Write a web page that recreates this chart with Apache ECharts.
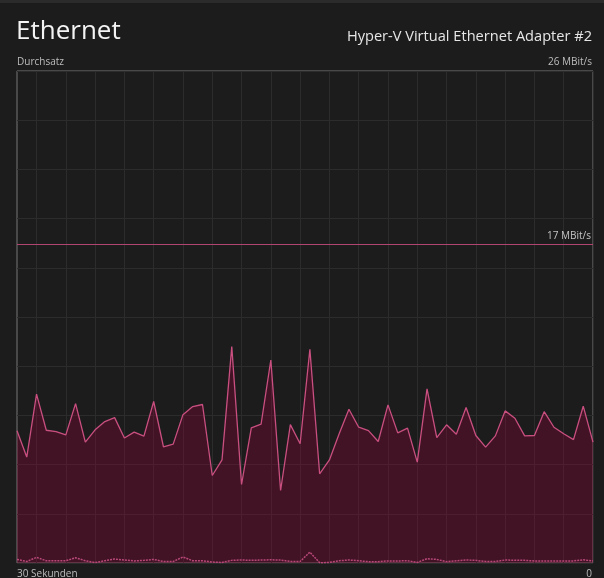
<!DOCTYPE html>
<html>
<head>
<meta charset="utf-8">
<script src="https://cdn.jsdelivr.net/npm/echarts@6/dist/echarts.min.js"></script>
<style>
html,body{margin:0;padding:0;background:#1c1c1c;}
#chart{width:604px;height:578px;}
</style>
</head>
<body>
<div id="chart"></div>
<script>
// sample positions (seconds before now), left = 29.5 s ago, right = now
const categories = ['29.5','29','28.5','28','27.5','27','26.5','26','25.5','25',
  '24.5','24','23.5','23','22.5','22','21.5','21','20.5','20',
  '19.5','19','18.5','18','17.5','17','16.5','16','15.5','15',
  '14.5','14','13.5','13','12.5','12','11.5','11','10.5','10',
  '9.5','9','8.5','8','7.5','7','6.5','6','5.5','5',
  '4.5','4','3.5','3','2.5','2','1.5','1','0.5','0'];

// received throughput (MBit/s)
const receiveValues = [7.04,5.64,8.99,7.07,7.00,6.82,8.49,6.44,7.09,7.53,
  7.74,6.66,6.97,6.76,8.60,6.19,6.33,7.90,8.33,8.44,
  4.66,5.49,11.52,4.18,7.20,7.39,10.81,3.86,7.37,6.35,
  11.38,4.75,5.49,6.88,8.19,7.23,7.05,6.47,8.42,6.93,
  7.18,5.37,9.27,6.68,7.36,6.86,8.28,6.79,6.17,6.77,
  8.10,7.71,6.77,6.79,8.06,7.23,6.88,6.57,8.35,6.44];

// sent throughput (MBit/s)
const sendValues = [0.19,0.08,0.30,0.12,0.12,0.12,0.28,0.12,0.02,0.12,
  0.21,0.16,0.11,0.14,0.19,0.08,0.08,0.32,0.12,0.12,
  0.05,0.03,0.14,0.16,0.14,0.16,0.17,0.16,0.08,0.08,
  0.58,0.01,0.03,0.12,0.16,0.12,0.07,0.07,0.11,0.11,
  0.12,0.03,0.23,0.19,0.07,0.12,0.16,0.14,0.08,0.08,
  0.16,0.14,0.14,0.11,0.11,0.11,0.11,0.11,0.17,0.11];

const axisMax = 26.2;
const axisLabelTop = '26 MBit/s';
const limitValue = 17;
const limitLabel = '17 MBit/s';

const chart = echarts.init(document.getElementById('chart'), null, {renderer:'canvas'});
const FONT = '"Open Sans", "Noto Sans", sans-serif';
const PINK = '#c94f80';

chart.setOption({
  backgroundColor: '#1c1c1c',
  animation: false,
  grid: {
    left: 17, right: 11, top: 71, bottom: 15,
    show: true, borderColor: '#767676', borderWidth: 1,
    backgroundColor: 'transparent'
  },
  xAxis: {
    type: 'category',
    data: categories,
    boundaryGap: false,
    axisLine: {show:false},
    axisTick: {show:false},
    axisLabel: {show:false},
    splitLine: {
      show: true,
      interval: function (i) { return i % 3 === 2; },
      lineStyle: {color:'#2c2c2c', width:1}
    }
  },
  yAxis: {
    type: 'value',
    min: 0, max: axisMax, interval: axisMax / 10,
    axisLine: {show:false},
    axisTick: {show:false},
    axisLabel: {show:false},
    splitLine: {show:true, lineStyle:{color:'#2c2c2c', width:1}}
  },
  series: [
    {
      type: 'line',
      data: receiveValues,
      symbol: 'none',
      lineStyle: {color: PINK, width: 1.3},
      areaStyle: {color: 'rgba(155,0,55,0.30)', opacity: 1},
      z: 3,
      markLine: {
        silent: true,
        symbol: 'none',
        lineStyle: {color: '#b0456f', width: 1, type: 'solid'},
        label: {
          show: true, position: 'insideEndTop', formatter: limitLabel,
          color: '#c4c4c4', fontSize: 10, fontFamily: FONT, distance: [2, 3]
        },
        data: [{yAxis: limitValue}]
      }
    },
    {
      type: 'line',
      data: sendValues,
      symbol: 'none',
      lineStyle: {color: '#b8487a', width: 1.5, type: [2, 1]},
      z: 4
    }
  ],
  graphic: [
    {type:'rect', shape:{x:0,y:0,width:604,height:3}, style:{fill:'#2b2b2b'}, silent:true},
    {type:'text', style:{text:'Ethernet', x:16, y:32, font:'400 26px '+FONT, fill:'#f4f4f4', verticalAlign:'middle', textAlign:'left'}},
    {type:'text', style:{text:'Hyper-V Virtual Ethernet Adapter #2', x:592, y:37, font:'14.6px '+FONT, fill:'#e6e6e6', verticalAlign:'middle', textAlign:'right'}},
    {type:'text', style:{text:'Durchsatz', x:17, y:62, font:'10px '+FONT, fill:'#bdbdbd', verticalAlign:'middle', textAlign:'left'}},
    {type:'text', style:{text:axisLabelTop, x:592, y:62, font:'10px '+FONT, fill:'#bdbdbd', verticalAlign:'middle', textAlign:'right'}},
    {type:'text', style:{text:'30 Sekunden', x:17, y:574, font:'10px '+FONT, fill:'#bdbdbd', verticalAlign:'middle', textAlign:'left'}},
    {type:'text', style:{text:'0', x:592, y:574, font:'10px '+FONT, fill:'#bdbdbd', verticalAlign:'middle', textAlign:'right'}}
  ]
});
</script>
</body>
</html>
